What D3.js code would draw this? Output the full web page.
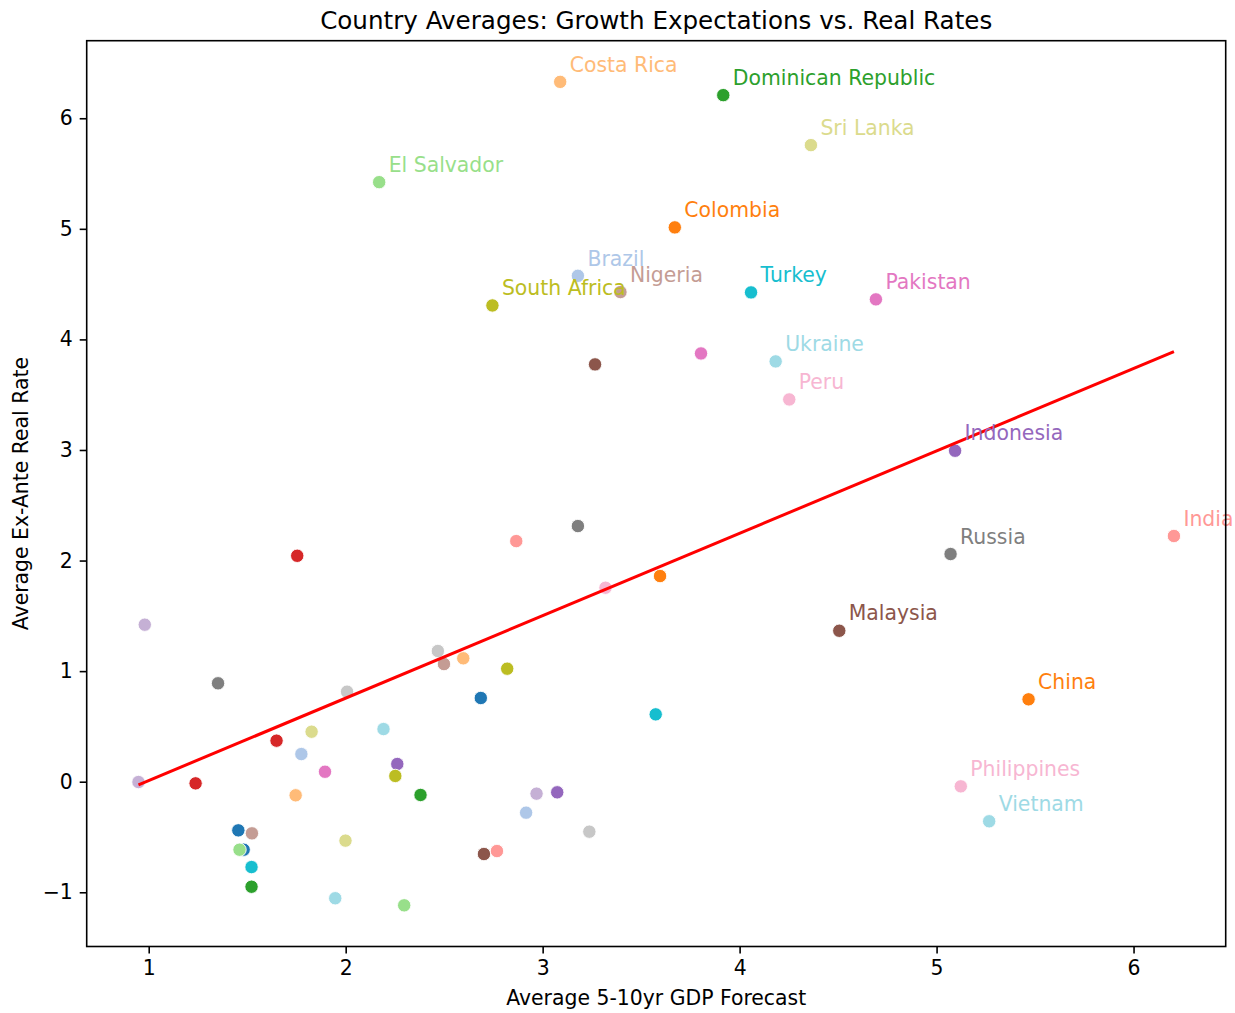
<!DOCTYPE html>
<html>
<head>
<meta charset="utf-8">
<script src="https://cdn.jsdelivr.net/npm/d3@7"></script>
<style>
  html, body { margin: 0; padding: 0; background: #fff; }
  svg { display: block; font-family: "DejaVu Sans", sans-serif; }
</style>
</head>
<body>
<svg id="chart" width="1235" height="1013"></svg>
<script>
// Country averages: 5-10yr GDP forecast (x) vs ex-ante real rate (y)
const countryLabels = [
  "Costa Rica", "Dominican Republic", "Sri Lanka", "El Salvador", "Colombia",
  "Brazil", "Nigeria", "South Africa", "Turkey", "Pakistan",
  "Ukraine", "Peru", "Indonesia", "Russia", "India",
  "Malaysia", "China", "Philippines", "Vietnam",
  "", "", "", "", "", "", "", "", "", "",
  "", "", "", "", "", "", "", "", "", "",
  "", "", "", "", "", "", "", "", "", "",
  "", "", "", "", "", "", "", "", "", "",
  "", ""
];
const gdpForecast = [
  3.089, 3.917, 4.362, 2.170, 3.671,
  3.179, 3.395, 2.745, 4.058, 4.692,
  4.183, 4.252, 5.094, 5.071, 6.205,
  4.506, 5.467, 5.123, 5.267,
  1.754, 0.980, 1.352, 2.468, 2.499, 2.007, 1.827, 2.192, 1.649, 1.775,
  1.895, 2.262, 2.252, 2.380, 0.948, 1.238, 1.746, 1.455, 1.524, 1.482,
  1.461, 1.999, 1.522, 1.522, 1.947, 2.297, 2.866, 3.179, 3.319, 3.596,
  2.597, 2.820, 2.686, 3.574, 2.969, 3.074, 2.916, 3.237, 2.702, 2.768,
  3.266, 3.804
];
const realRate = [
  6.329, 6.209, 5.757, 5.422, 5.013,
  4.575, 4.428, 4.307, 4.425, 4.362,
  3.801, 3.457, 2.993, 2.059, 2.222,
  1.365, 0.745, -0.042, -0.358,
  2.043, 1.420, 0.890, 1.182, 1.064, 0.814, 0.452, 0.476, 0.371, 0.250,
  0.090, 0.160, 0.052, -0.120, -0.003, -0.015, -0.123, -0.440, -0.467, -0.615,
  -0.615, -0.533, -0.772, -0.950, -1.054, -1.118, 2.176, 2.312, 1.754, 1.860,
  1.116, 1.022, 0.757, 0.609, -0.108, -0.096, -0.280, -0.452, -0.654, -0.627,
  3.774, 3.873
];
// hue slot of each country in the 20-colour categorical palette
const hueIndex = [
  3, 4, 17, 5, 2,
  1, 11, 16, 18, 12,
  19, 13, 8, 14, 7,
  10, 2, 13, 19,
  6, 9, 14, 15, 11, 15, 17, 19, 6, 1,
  12, 8, 16, 4, 9, 6, 3, 0, 11, 0,
  5, 17, 18, 4, 19, 5, 7, 14, 13, 2,
  3, 16, 0, 18, 9, 8, 1, 15, 10, 7,
  10, 12
];
const xTicks = [1, 2, 3, 4, 5, 6];
const yTicks = [-1, 0, 1, 2, 3, 4, 5, 6];

const tab20 = [
  "#1f77b4", "#aec7e8", "#ff7f0e", "#ffbb78", "#2ca02c", "#98df8a",
  "#d62728", "#ff9896", "#9467bd", "#c5b0d5", "#8c564b", "#c49c94",
  "#e377c2", "#f7b6d2", "#7f7f7f", "#c7c7c7", "#bcbd22", "#dbdb8d",
  "#17becf", "#9edae5"
];

const points = gdpForecast.map((x, i) => ({
  x, y: realRate[i], label: countryLabels[i], color: tab20[hueIndex[i] % 20]
}));

const W = 1235, H = 1013;
const plot = { left: 86.7, right: 1225.7, top: 40.7, bottom: 946.5 };

// 5% padding around the data extent on each axis
function padded(ext) {
  const span = ext[1] - ext[0];
  return [ext[0] - 0.05 * span, ext[1] + 0.05 * span];
}
const x = d3.scaleLinear().domain(padded(d3.extent(gdpForecast))).range([plot.left, plot.right]);
const y = d3.scaleLinear().domain(padded(d3.extent(realRate))).range([plot.bottom, plot.top]);

const svg = d3.select("#chart");
const fontSize = 20.4;
const minus = v => (v < 0 ? "\u2212" + Math.abs(v) : String(v));

// points
svg.append("g")
  .selectAll("circle")
  .data(points)
  .join("circle")
  .attr("cx", d => x(d.x))
  .attr("cy", d => y(d.y))
  .attr("r", 6.7)
  .attr("fill", d => d.color)
  .attr("stroke", "#fff")
  .attr("stroke-width", 0.9);

// least-squares trend line across the data range
const mx = d3.mean(gdpForecast), my = d3.mean(realRate);
const sxy = d3.sum(gdpForecast, (v, i) => (v - mx) * (realRate[i] - my));
const sxx = d3.sum(gdpForecast, v => (v - mx) * (v - mx));
const slope = sxy / sxx, intercept = my - slope * mx;
const [xMin, xMax] = d3.extent(gdpForecast);
svg.append("path")
  .datum([xMin, xMax])
  .attr("d", d3.line().x(v => x(v)).y(v => y(intercept + slope * v)))
  .attr("fill", "none")
  .attr("stroke", "#ff0000")
  .attr("stroke-width", 3);

// country name annotations
svg.append("g")
  .selectAll("text")
  .data(points.filter(d => d.label))
  .join("text")
  .attr("x", d => x(d.x) + 9.5)
  .attr("y", d => y(d.y) - 10.3)
  .attr("fill", d => d.color)
  .attr("font-size", fontSize)
  .text(d => d.label);

// axes
const xAxis = svg.append("g")
  .attr("transform", `translate(0,${plot.bottom})`)
  .call(d3.axisBottom(x).tickValues(xTicks).tickFormat(minus).tickSize(7).tickPadding(7));
const yAxis = svg.append("g")
  .attr("transform", `translate(${plot.left},0)`)
  .call(d3.axisLeft(y).tickValues(yTicks).tickFormat(minus).tickSize(7).tickPadding(7));
[xAxis, yAxis].forEach(g => {
  g.select(".domain").remove();
  g.selectAll(".tick line").attr("stroke", "#000").attr("stroke-width", 1.6);
  g.selectAll(".tick text").attr("fill", "#000").attr("font-size", fontSize)
    .attr("font-family", "DejaVu Sans, sans-serif");
});

// frame
svg.append("rect")
  .attr("x", plot.left).attr("y", plot.top)
  .attr("width", plot.right - plot.left).attr("height", plot.bottom - plot.top)
  .attr("fill", "none").attr("stroke", "#000").attr("stroke-width", 1.6);

// titles
svg.append("text")
  .attr("x", (plot.left + plot.right) / 2).attr("y", 28.5)
  .attr("text-anchor", "middle").attr("font-size", 24.6).attr("fill", "#000")
  .text("Country Averages: Growth Expectations vs. Real Rates");
svg.append("text")
  .attr("x", (plot.left + plot.right) / 2).attr("y", 1005)
  .attr("text-anchor", "middle").attr("font-size", fontSize).attr("fill", "#000")
  .text("Average 5-10yr GDP Forecast");
svg.append("text")
  .attr("transform", `translate(27.5,${(plot.top + plot.bottom) / 2}) rotate(-90)`)
  .attr("text-anchor", "middle").attr("font-size", fontSize).attr("fill", "#000")
  .text("Average Ex-Ante Real Rate");
</script>
</body>
</html>
